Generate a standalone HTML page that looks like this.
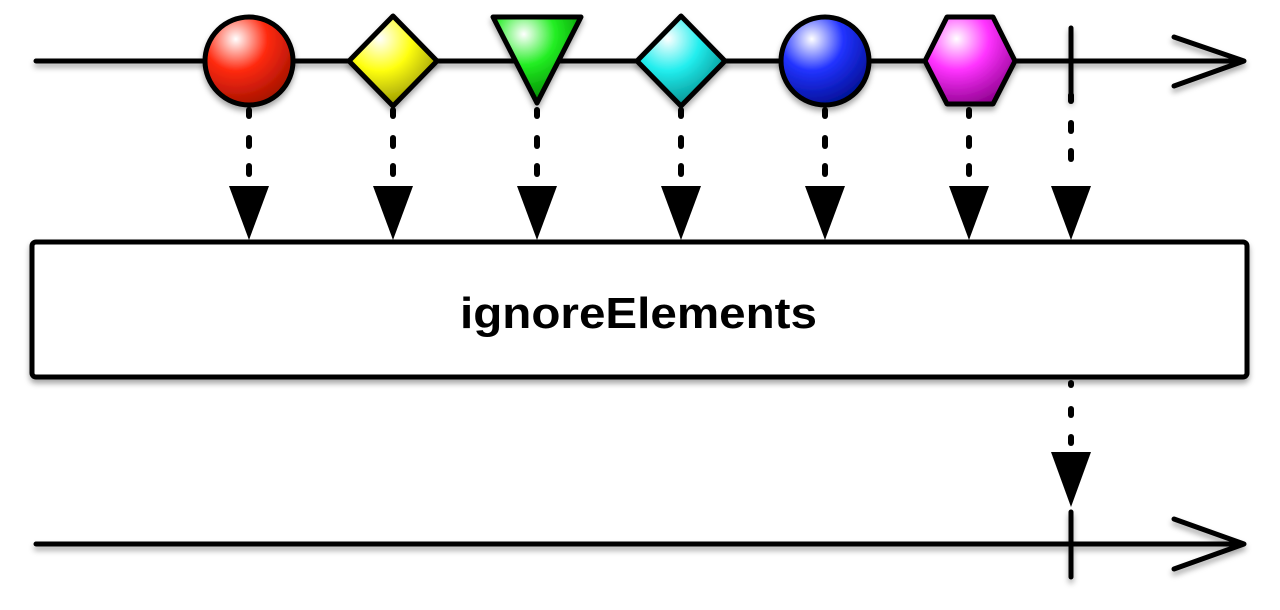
<!DOCTYPE html>
<html><head><meta charset="utf-8"><style>html,body{margin:0;padding:0;background:#fff;width:1280px;height:610px;overflow:hidden}</style></head>
<body>
<svg width="1280" height="610" viewBox="0 0 1280 610" xmlns="http://www.w3.org/2000/svg">
<defs>
<filter id="sh" x="-20%" y="-20%" width="140%" height="160%"><feDropShadow dx="0" dy="4" stdDeviation="3" flood-color="#000" flood-opacity="0.35"/></filter>
<radialGradient id="gr" cx="0.35" cy="0.25" r="0.8"><stop offset="0" stop-color="#fff"/><stop offset="0.45" stop-color="#ff2a10"/><stop offset="1" stop-color="#a01000"/></radialGradient>
<radialGradient id="gy" cx="0.35" cy="0.25" r="0.8"><stop offset="0" stop-color="#fff"/><stop offset="0.45" stop-color="#ffff10"/><stop offset="1" stop-color="#909000"/></radialGradient>
<radialGradient id="gg" cx="0.35" cy="0.2" r="0.8"><stop offset="0" stop-color="#fff"/><stop offset="0.45" stop-color="#22ee22"/><stop offset="1" stop-color="#008800"/></radialGradient>
<radialGradient id="gc" cx="0.35" cy="0.25" r="0.8"><stop offset="0" stop-color="#fff"/><stop offset="0.45" stop-color="#22eeee"/><stop offset="1" stop-color="#008888"/></radialGradient>
<radialGradient id="gb" cx="0.35" cy="0.25" r="0.8"><stop offset="0" stop-color="#fff"/><stop offset="0.45" stop-color="#2233ff"/><stop offset="1" stop-color="#000e90"/></radialGradient>
<radialGradient id="gm" cx="0.35" cy="0.25" r="0.8"><stop offset="0" stop-color="#fff"/><stop offset="0.45" stop-color="#ff33ff"/><stop offset="1" stop-color="#900090"/></radialGradient>
<g id="d">
<line x1="0" y1="110" x2="0" y2="116"/>
<line x1="0" y1="138" x2="0" y2="146"/>
<line x1="0" y1="166" x2="0" y2="174"/>
</g>
</defs>
<g stroke="#000" stroke-width="5" stroke-linecap="round" stroke-linejoin="round" filter="url(#sh)">
<line x1="36" y1="61" x2="1243" y2="61"/>
<polyline points="1174,37 1244,61 1174,86" fill="none"/>
<line x1="1071" y1="28" x2="1071" y2="99"/>
<line x1="36" y1="544" x2="1243" y2="544"/>
<polyline points="1174,519 1244,544 1174,569" fill="none"/>
<line x1="1071" y1="512" x2="1071" y2="577"/>
<rect x="32" y="242" width="1215" height="135" rx="4" fill="#fff"/>
</g>
<g stroke="#000" stroke-width="5" stroke-linejoin="round" filter="url(#sh)">
<circle cx="249" cy="61" r="44" fill="url(#gr)"/>
<polygon points="393,16 437,61 393,106 349,61" fill="url(#gy)"/>
<polygon points="493,17 581,17 537,103" fill="url(#gg)"/>
<polygon points="681,16 725,61 681,106 637,61" fill="url(#gc)"/>
<circle cx="825" cy="61" r="44" fill="url(#gb)"/>
<polygon points="947,17 993,17 1015,61 993,104 947,104 925,61" fill="url(#gm)"/>
</g>
<g stroke="#000" stroke-width="6" stroke-linecap="round">
<use href="#d" x="249"/><use href="#d" x="393"/><use href="#d" x="537"/><use href="#d" x="681"/><use href="#d" x="825"/><use href="#d" x="969"/><use href="#d" x="1071" y="-15"/>
<line x1="1071" y1="383" x2="1071" y2="385"/>
<line x1="1071" y1="409" x2="1071" y2="415"/>
<line x1="1071" y1="437" x2="1071" y2="443"/>
</g>
<g fill="#000">
<polygon points="229,186 269,186 249,240"/>
<polygon points="373,186 413,186 393,240"/>
<polygon points="517,186 557,186 537,240"/>
<polygon points="661,186 701,186 681,240"/>
<polygon points="805,186 845,186 825,240"/>
<polygon points="949,186 989,186 969,240"/>
<polygon points="1051,186 1091,186 1071,240"/>
<polygon points="1051,452 1091,452 1071,507"/>
</g>
<text x="638.5" y="328" text-anchor="middle" font-family="Liberation Sans, Arial, sans-serif" font-weight="bold" font-size="44" textLength="357" lengthAdjust="spacingAndGlyphs">ignoreElements</text>
</svg>
</body></html>
